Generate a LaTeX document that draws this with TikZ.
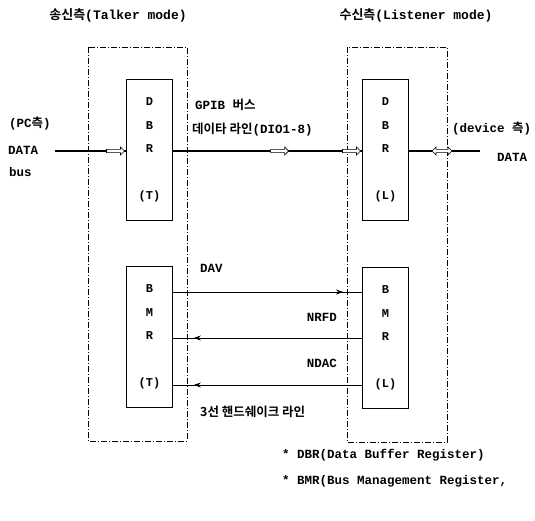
\documentclass[tikz,border=0pt]{standalone}
\usepackage{fontspec}
\setmainfont{Liberation Mono}
\newfontfamily\kr{Noto Sans CJK KR}[BoldFont={Noto Sans CJK KR Bold}]
\usetikzlibrary{arrows.meta,decorations.markings,shapes.arrows}
\begin{document}
\begin{tikzpicture}[x=1pt,y=-1pt,
  font=\bfseries\fontsize{12.5}{14}\selectfont,
  reg/.style={draw, line width=1.1pt, minimum width=46pt, minimum height=141pt, inner sep=0pt, align=center, font=\bfseries\fontsize{12}{23.5}\selectfont},
  zone/.style={draw, line width=0.7pt, dash pattern=on 6pt off 2pt on 1pt off 2pt},
  txt/.style={inner sep=0pt, anchor=west},
  bus/.style={line width=2.2pt},
  harrow/.style={single arrow, draw, fill=white, line width=0.6pt, inner sep=1.3pt,
    single arrow head extend=2.4pt, single arrow head indent=0pt, minimum height=18pt},
  darrow/.style={double arrow, draw, fill=white, line width=0.6pt, inner sep=1.3pt,
    double arrow head extend=2.4pt, double arrow head indent=0pt, minimum height=20pt},
  hs/.style={line width=0.8pt},
  tipat/.style={decoration={markings, mark=at position #1 with {\arrow{Stealth[length=7pt,width=5pt]}}}, postaction=decorate},
]
\useasboundingbox (0,0) rectangle (535,521);

% zones
\draw[zone] (88,47) rectangle (187,441);
\draw[zone] (347,47) rectangle (447,442);

% titles
\node (ttl) at (118,15) {\fontsize{13}{15}\selectfont{\kr 송신측}(Talker mode)};
\node (ttr) at (416,15) {\fontsize{13}{15}\selectfont{\kr 수신측}(Listener mode)};

% registers
\node[reg] (dbrT) at (149.5,150) {D\\B\\R\\[23.5pt](T)};
\node[reg] (dbrL) at (385.5,150) {D\\B\\R\\[23.5pt](L)};
\node[reg] (bmrT) at (149.5,337) {B\\M\\R\\[23.5pt](T)};
\node[reg] (bmrL) at (385.5,338) {B\\M\\R\\[23.5pt](L)};

% left / right side texts
\node[txt] (pc) at (9,124) {(PC{\kr 측})};
\node[txt] (dataL) at (8,150) {DATA};
\node[txt] (busL) at (9,172) {bus};
\node[txt] (dev) at (452,129) {(device {\kr 측})};
\node[txt] (dataR) at (497,157) {DATA};

% GPIB labels
\node[txt] (gpib) at (195,105) {GPIB {\kr 버스}};
\node[txt] (dline) at (192,130) {{\kr 데이타 라인}(DIO1-8)};

% data bus
\coordinate (pcin) at (55,151);
\coordinate (devout) at (480,151);
\draw[bus] (pcin) -- (dbrT.west |- pcin);
\draw[bus] (dbrT.east |- pcin) -- (dbrL.west |- pcin);
\draw[bus] (dbrL.east |- devout) -- (devout);
\node[harrow, anchor=tip] (ha1) at ([xshift=-1pt]dbrT.west |- pcin) {};
\node[harrow, anchor=tip] (ha2) at (289,151) {};
\node[harrow, anchor=tip] (ha3) at ([xshift=-1pt]dbrL.west |- pcin) {};
\node[darrow] (ha4) at (442,151) {};

% handshake lines
\draw[hs, tipat=0.9] (bmrT.east |- 0,292) -- (bmrL.west |- 0,292);
\draw[hs, tipat=0.89] (bmrL.west |- 0,338) -- (bmrT.east |- 0,338);
\draw[hs, tipat=0.89] (bmrL.west |- 0,385) -- (bmrT.east |- 0,385);

\node[txt] (dav) at (200,268) {DAV};
\node[txt, anchor=east] (nrfd) at (337,317) {NRFD};
\node[txt, anchor=east] (ndac) at (337,363) {NDAC};
\node[txt] (hand) at (200,412) {{\kr 3선 핸드쉐이크 라인}};

% footnotes
\node[txt] (fn1) at (282,455) {* DBR(Data Buffer Register)};
\node[txt] (fn2) at (282,481) {* BMR(Bus Management Register,};
\end{tikzpicture}
\end{document}
